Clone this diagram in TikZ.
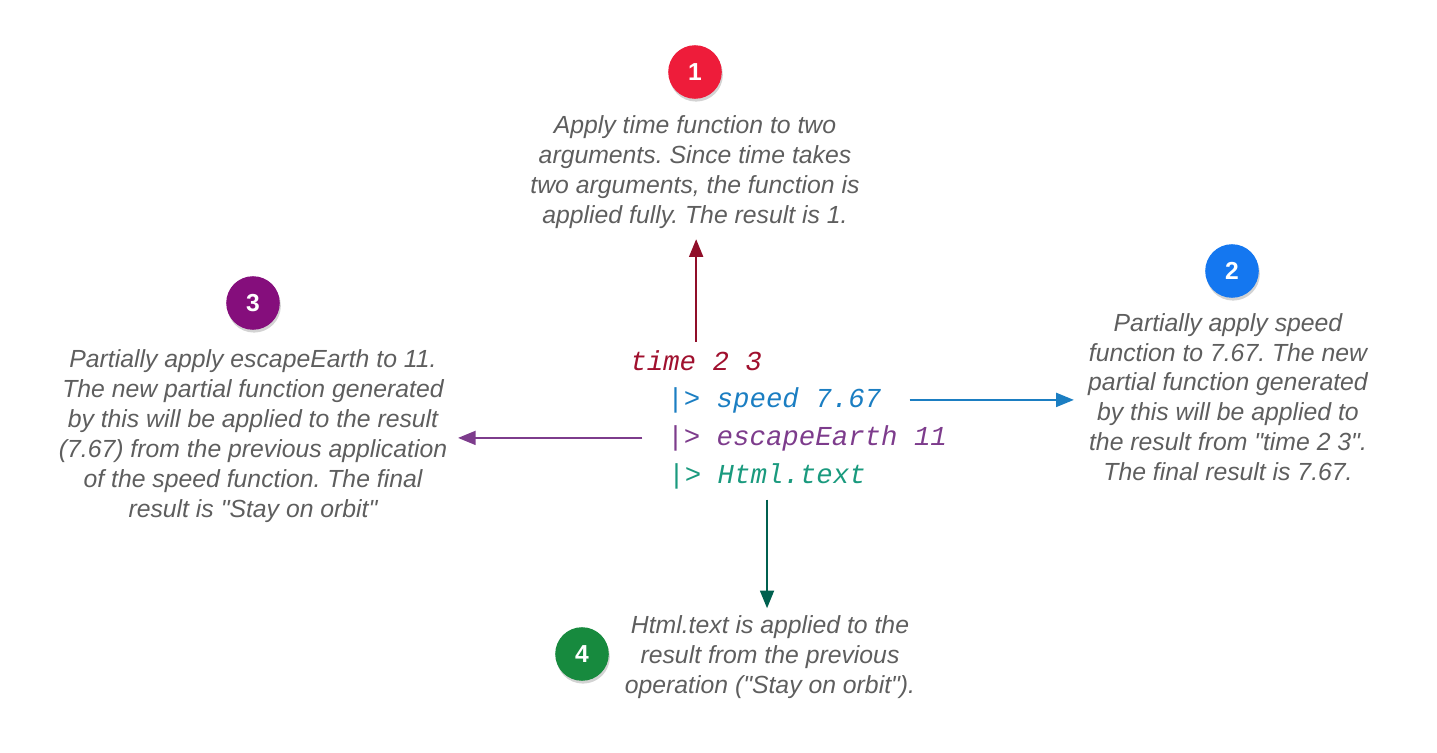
\documentclass[tikz,border=0pt]{standalone}
\usepackage{fontspec}
\setmainfont{Liberation Sans}
\newfontfamily\codefont{Liberation Mono}
\usetikzlibrary{arrows.meta, shadows}

\definecolor{notegray}{HTML}{5E5E5E}
\definecolor{timered}{HTML}{A0102E}
\definecolor{speedblue}{HTML}{1B7EC2}
\definecolor{escapepurple}{HTML}{7D3C8C}
\definecolor{htmlteal}{HTML}{1A9A7E}
\definecolor{htmlgreen}{HTML}{00604F}
\definecolor{badgered}{HTML}{EE1C3A}
\definecolor{badgeblue}{HTML}{1477F0}
\definecolor{badgepurple}{HTML}{850E7C}
\definecolor{badgegreen}{HTML}{178A3E}

\tikzset{
    badge/.style = {circle, minimum size=30.5pt, inner sep=0pt, text=white, font=\fontsize{14}{14}\selectfont\bfseries,
        drop shadow={opacity=0.35, shadow xshift=0.6pt, shadow yshift=-1.6pt}},
    note/.style = {align=center, inner sep=0pt, text=notegray, font=\fontsize{14.1}{17}\selectfont\itshape},
    code/.style = {anchor=base west, inner sep=0pt, font=\fontsize{15.6}{15.6}\selectfont\codefont\itshape},
    arrow/.style = {line width=0.8pt, -{Triangle[length=10pt, width=8pt]}}
}
\frenchspacing

\begin{document}
\begin{tikzpicture}[x=0.02cm, y=-0.02cm]
\useasboundingbox (0,0) rectangle (1437,753);

% Pipeline code
\node (codetime) [code, text=timered] at (630,370) {time 2 3};
\node (codespeed) [code, text=speedblue] at (667,407) {|> speed 7.67};
\node (codeescape) [code, text=escapepurple] at (667,445) {|> escapeEarth 11};
\node (codehtml) [code, text=htmlteal] at (668,483) {|> Html.text};

% Badges
\node (badge1) [badge, fill=badgered] at (695,72) {1};
\node (badge2) [badge, fill=badgeblue] at (1232,271) {2};
\node (badge3) [badge, fill=badgepurple] at (253,303) {3};
\node (badge4) [badge, fill=badgegreen] at (582,654) {4};

% Notes
\node (note1) [note] at (695,172) {Apply time function to two\\arguments. Since time takes\\two arguments, the function is\\applied fully. The result is 1.};
\node (note2) [note] at (1228,397) {Partially apply speed\\function to 7.67. The new\\partial function generated\\by this will be applied to\\the result from \textquotedbl time 2 3\textquotedbl.\\The final result is 7.67.};
\node (note3) [note] at (253,436) {Partially apply escapeEarth to 11.\\The new partial function generated\\by this will be applied to the result\\(7.67) from the previous application\\of the speed function. The final\\result is \textquotedbl Stay on orbit\textquotedbl};
\node (note4) [note] at (770,657) {Html.text is applied to the\\result from the previous\\operation (\textquotedbl Stay on orbit\textquotedbl).};

% Connections
\draw [arrow, timered!90!black, shorten <=4.5pt, shorten >=6pt] (codetime.north) -- (codetime.north |- note1.south);
\draw [arrow, speedblue, shorten <=16pt, shorten >=8pt] (codespeed.east) -- (codespeed.east -| note2.west);
\draw [arrow, escapepurple, shorten <=14pt, shorten >=6pt] (codeescape.west) -- (codeescape.west -| note3.east);
\draw [arrow, htmlgreen, shorten <=6pt, shorten >=4pt] (codehtml.south) -- (codehtml.south |- note4.north);

\end{tikzpicture}
\end{document}
